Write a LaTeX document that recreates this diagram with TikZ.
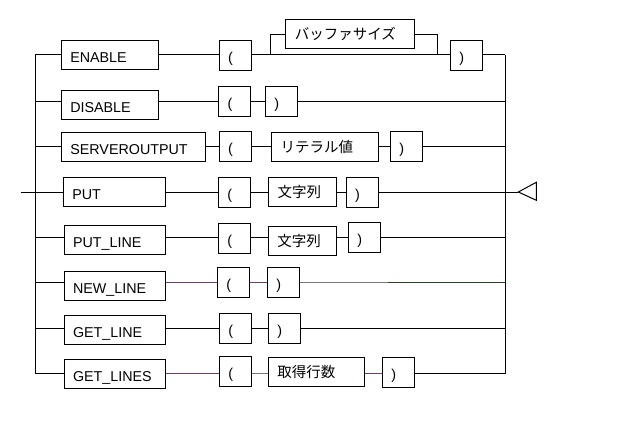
\documentclass[tikz,border=0pt]{standalone}
\usepackage{fontspec}
\setmainfont{Liberation Sans}
\newfontfamily\jpfont{Noto Sans CJK JP}
\definecolor{mauve}{RGB}{110,60,110}
\definecolor{midgray}{RGB}{120,120,120}
\definecolor{darkgreen}{RGB}{35,70,35}

\begin{document}
\begin{tikzpicture}[x=1pt, y=-1pt, line width=1pt,
    box/.style={draw, inner xsep=9pt, inner ysep=0pt, minimum height=29pt, align=left, text height=15pt, text depth=0pt, font=\fontsize{14.3}{16}\selectfont},
    paren/.style={box, text width=14pt, minimum height=30pt},
    jp/.style={text height=10.5pt, font=\jpfont\fontsize{14.5}{16}\selectfont}]
        \useasboundingbox (0,0) rectangle (626,428);

        \coordinate (r1) at (0,55);
        \coordinate (r2) at (0,101);
        \coordinate (r3) at (0,146);
        \coordinate (r4) at (0,192);
        \coordinate (r5) at (0,237.3);
        \coordinate (r6) at (0,282.7);
        \coordinate (r7) at (0,328);
        \coordinate (r8) at (0,373.7);
        \coordinate (rb) at (0,35);
        \coordinate (lbus) at (35.3,0);
        \coordinate (rbus) at (505.3,0);
        \coordinate (entry) at (20.7,192);
        \coordinate (tip) at (518.3,192);
        \coordinate (skipl) at (270.7,0);
        \coordinate (skipr) at (437.3,0);
        \coordinate (g6) at (388,282.7);

        \node[box, text width=79pt] (enable) at (109.8,54.8) {ENABLE};
        \node[paren] (lpa) at (235,55.3) {(};
        \node[box, jp, text width=110.3pt] (buf) at (349.9,33.8) {バッファサイズ};
        \node[paren] (rpa) at (466.3,55.3) {)};

        \node[box, text width=79pt, minimum height=28.7pt] (disable) at (109.8,104.7) {DISABLE};
        \node[paren] (lpb) at (234.5,101.3) {(};
        \node[paren] (rpb) at (281.3,101.3) {)};

        \node[box, text width=125.7pt] (serverout) at (133.2,146.8) {SERVEROUTPUT};
        \node[paren] (lpc) at (235,146) {(};
        \node[box, jp, text width=88.6pt] (literal) at (325,146.8) {リテラル値};
        \node[paren] (rpc) at (406.3,146) {)};

        \node[box, text width=84pt] (put) at (114.3,191.5) {PUT};
        \node[paren] (lpd) at (234.3,192) {(};
        \node[box, jp, text width=49.6pt] (strd) at (302.5,191.9) {文字列};
        \node[paren] (rpd) at (362.2,192) {)};

        \node[box, text width=83.3pt] (putline) at (114.7,239.7) {PUT\_LINE};
        \node[paren] (lpe) at (234.3,238.3) {(};
        \node[box, jp, text width=50pt] (stre) at (302.3,241) {文字列};
        \node[paren] (rpe) at (364.3,237.3) {)};

        \node[box, text width=83.3pt] (newline) at (114.7,285.7) {NEW\_LINE};
        \node[paren] (lpf) at (233.3,282.3) {(};
        \node[paren] (rpf) at (283.3,282.3) {)};

        \node[box, text width=83.3pt] (getline) at (114.7,330) {GET\_LINE};
        \node[paren] (lpg) at (235.3,328.3) {(};
        \node[paren] (rpg) at (284.3,328.3) {)};

        \node[box, text width=83.3pt] (getlines) at (114.7,373.8) {GET\_LINES};
        \node[paren] (lph) at (235.3,371.3) {(};
        \node[box, jp, text width=78pt] (count) at (316.3,372) {取得行数};
        \node[paren] (rph) at (398.3,372.3) {)};

        \draw (lbus |- r1) -- (lbus |- r8);
        \draw (rbus |- r1) -- (rbus |- r8);
        \draw (entry) -- (put.west |- r4);

        \draw (lbus |- r1) -- (enable.west |- r1);
        \draw (enable.east |- r1) -- (lpa.west |- r1);
        \draw (lpa.east |- r1) -- (rpa.west |- r1);
        \draw (skipl |- r1) -- (skipl |- rb) -- (buf.west |- rb);
        \draw (buf.east |- rb) -- (skipr |- rb) -- (skipr |- r1);
        \draw (rpa.east |- r1) -- (rbus |- r1);

        \draw (lbus |- r2) -- (disable.west |- r2);
        \draw (disable.east |- r2) -- (lpb.west |- r2);
        \draw (lpb.east |- r2) -- (rpb.west |- r2);
        \draw (rpb.east |- r2) -- (rbus |- r2);

        \draw (lbus |- r3) -- (serverout.west |- r3);
        \draw (serverout.east |- r3) -- (lpc.west |- r3);
        \draw (lpc.east |- r3) -- (literal.west |- r3);
        \draw (literal.east |- r3) -- (rpc.west |- r3);
        \draw (rpc.east |- r3) -- (rbus |- r3);

        \draw (put.east |- r4) -- (lpd.west |- r4);
        \draw (lpd.east |- r4) -- (strd.west |- r4);
        \draw (strd.east |- r4) -- (rpd.west |- r4);
        \draw (rpd.east |- r4) -- (tip);
        \draw (tip) -- (536.3,182.3) -- (536.3,200.3) -- cycle;

        \draw (lbus |- r5) -- (putline.west |- r5);
        \draw (putline.east |- r5) -- (lpe.west |- r5);
        \draw (lpe.east |- r5) -- (stre.west |- r5);
        \draw (stre.east |- r5) -- (rpe.west |- r5);
        \draw (rpe.east |- r5) -- (rbus |- r5);

        \draw (lbus |- r6) -- (newline.west |- r6);
        \draw[mauve] (newline.east |- r6) -- (lpf.west |- r6);
        \draw[mauve] (lpf.east |- r6) -- (rpf.west |- r6);
        \draw[midgray] (rpf.east |- r6) -- (g6);
        \draw[darkgreen] (g6) -- (rbus |- r6);

        \draw (lbus |- r7) -- (getline.west |- r7);
        \draw (getline.east |- r7) -- (lpg.west |- r7);
        \draw (lpg.east |- r7) -- (rpg.west |- r7);
        \draw (rpg.east |- r7) -- (rbus |- r7);

        \draw (lbus |- r8) -- (getlines.west |- r8);
        \draw[mauve] (getlines.east |- r8) -- (lph.west |- r8);
        \draw[midgray] (lph.east |- r8) -- (count.west |- r8);
        \draw[mauve] (count.east |- r8) -- (rph.west |- r8);
        \draw (rph.east |- r8) -- (rbus |- r8);
    \end{tikzpicture}
\end{document}
